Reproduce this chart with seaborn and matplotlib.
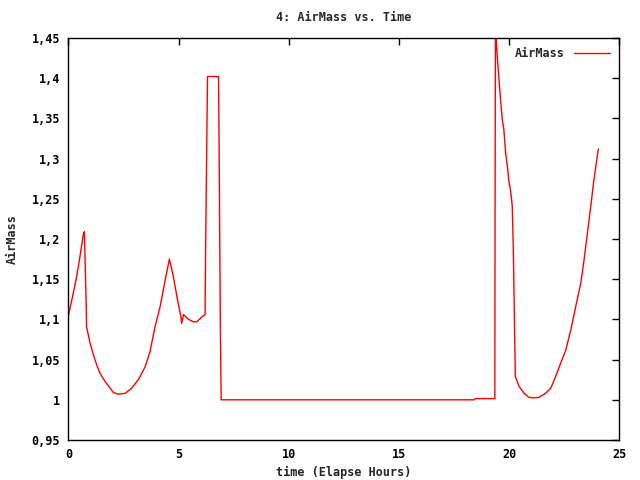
import numpy as np
import pandas as pd
import matplotlib
matplotlib.use("Agg")
import matplotlib.pyplot as plt
import seaborn as sns
from matplotlib.ticker import FuncFormatter, MultipleLocator

# time in hours and airmass
hours = [0.0, 0.22, 0.37, 0.52, 0.67, 0.72, 0.75, 0.80, 0.82, 0.98, 1.13, 1.28,
         1.43, 1.66, 2.04, 2.26, 2.57, 2.87, 3.17, 3.48, 3.70, 3.93, 4.16, 4.39,
         4.58, 4.76, 4.95, 5.10, 5.14, 5.22, 5.45, 5.67, 5.82, 6.05, 6.20, 6.22,
         6.28, 6.31, 6.81, 6.84, 6.89, 6.93, 18.43, 18.45, 19.35, 19.36, 19.38,
         19.42, 19.46, 19.54, 19.61, 19.69, 19.76, 19.84, 19.92, 19.99, 20.07,
         20.14, 20.19, 20.25, 20.28, 20.45, 20.67, 20.90, 21.13, 21.35, 21.66,
         21.89, 22.11, 22.34, 22.57, 22.80, 23.02, 23.25, 23.40, 23.55, 23.70,
         23.85, 24.01, 24.05]
airmass = [1.105, 1.133, 1.153, 1.178, 1.205, 1.209, 1.179, 1.122, 1.091, 1.0705,
           1.056, 1.0435, 1.033, 1.0228, 1.009, 1.007, 1.008, 1.0145, 1.025, 1.041,
           1.060, 1.091, 1.116, 1.149, 1.175, 1.153, 1.124, 1.1036, 1.095, 1.106,
           1.100, 1.097, 1.097, 1.103, 1.106, 1.178, 1.3275, 1.402, 1.402, 1.30,
           1.0995, 1.0, 1.0, 1.0015, 1.0015, 1.226, 1.49, 1.444, 1.427, 1.398,
           1.373, 1.348, 1.336, 1.307, 1.290, 1.2715, 1.259, 1.241, 1.1866, 1.081,
           1.029, 1.0166, 1.0083, 1.003, 1.0025, 1.003, 1.0083, 1.0145, 1.029,
           1.0456, 1.062, 1.087, 1.116, 1.145, 1.174, 1.207, 1.240, 1.274, 1.305,
           1.312]

df = pd.DataFrame({"time": hours, "AirMass": airmass})

sns.set_style("white")
plt.rcParams['font.family'] = ['DejaVu Sans Mono']
plt.rcParams['font.weight'] = 'bold'

fig = plt.figure(figsize=(6.4, 4.8), dpi=100)
ax = fig.add_axes([0.107, 0.0833, 0.8607, 0.8377])

sns.lineplot(data=df, x="time", y="AirMass", color="red", linewidth=1,
             sort=False, estimator=None, ax=ax, label="AirMass")

ax.set_xlim(0, 25)
ax.set_ylim(0.95, 1.45)
ax.xaxis.set_major_locator(MultipleLocator(5))
ax.yaxis.set_major_locator(MultipleLocator(0.05))
ax.yaxis.set_major_formatter(FuncFormatter(lambda v, p: ("%.2f" % v).rstrip("0").rstrip(".").replace(".", ",")))
ax.tick_params(direction="in", length=5, width=1, top=True, right=True,
               labelsize=8.5, colors="black", pad=6)
for s in ax.spines.values():
    s.set_color("black")
    s.set_linewidth(1)

ax.set_title("4: AirMass vs. Time", fontsize=8.5, fontweight="bold", pad=12)
ax.set_xlabel("time (Elapse Hours)", fontsize=8.5, fontweight="bold", labelpad=3)
ax.set_ylabel("AirMass", fontsize=8.5, fontweight="bold", labelpad=9)

ax.legend(loc="upper right", frameon=False, markerfirst=False, fontsize=8.5,
          handlelength=3.0, borderaxespad=0.4)

fig.savefig("out.png", dpi=100)
